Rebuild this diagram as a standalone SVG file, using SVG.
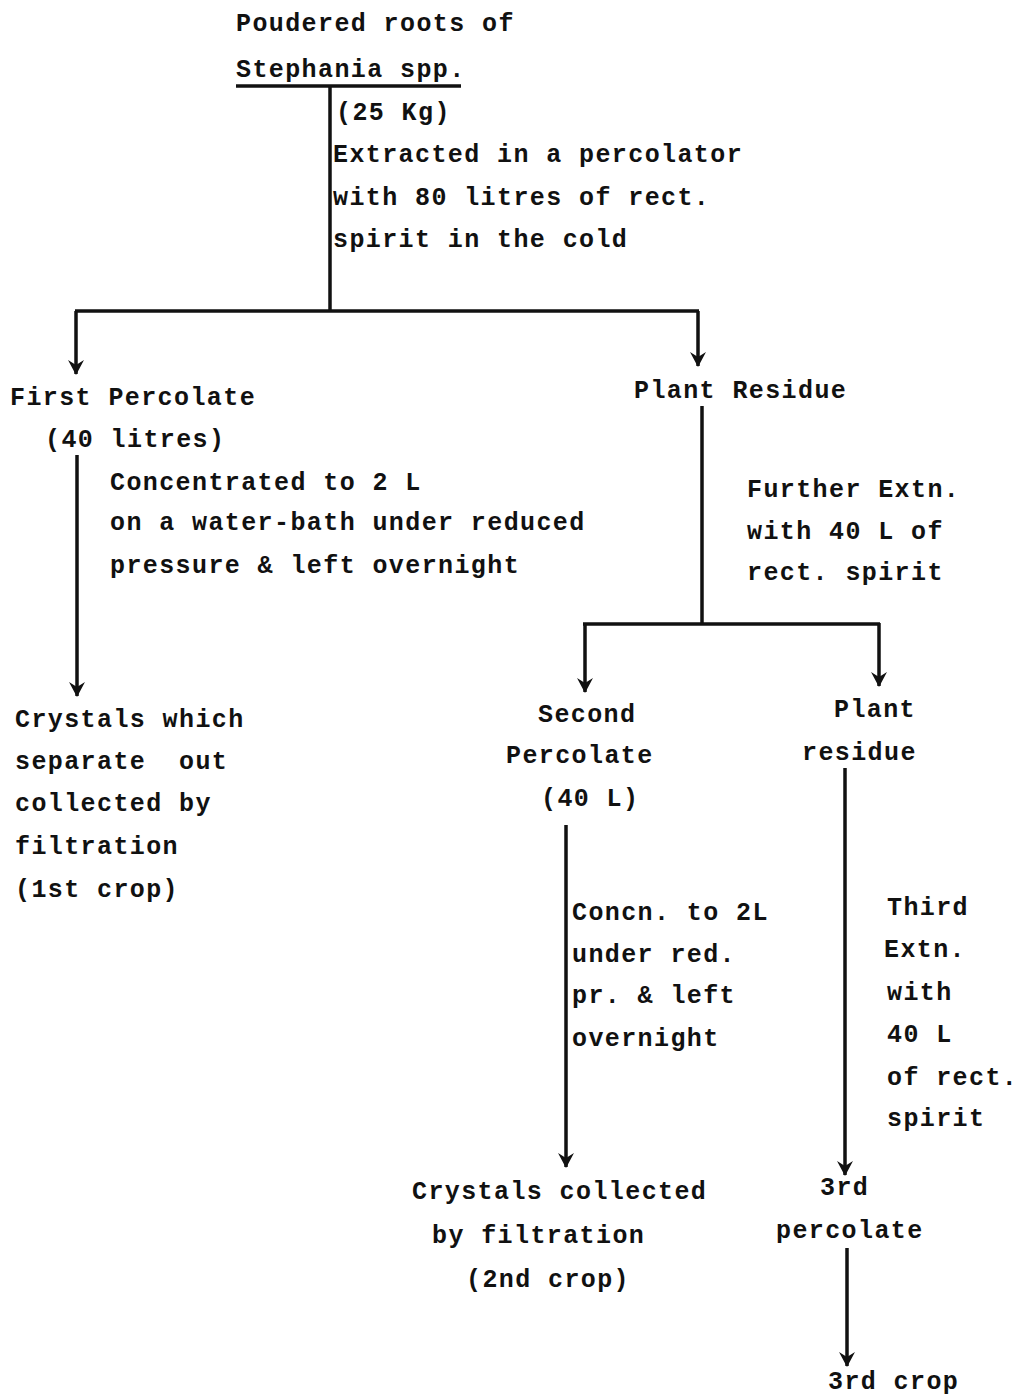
<svg xmlns="http://www.w3.org/2000/svg" width="1019" height="1397" viewBox="0 0 1019 1397">
<style>
text{font-family:"Liberation Mono","DejaVu Sans Mono",monospace;font-weight:bold;font-size:25px;letter-spacing:1.4px;fill:#111;white-space:pre}
.c{stroke:#111;stroke-width:3.5;fill:none}
.h{fill:#111;stroke:none}
</style>
<defs>
<marker id="a" markerWidth="18" markerHeight="18" refX="16" refY="9" orient="auto" markerUnits="userSpaceOnUse" viewBox="0 0 18 18">
<path d="M2,1 L7,9 L2,17 L17,9 Z" class="h"/>
</marker>
</defs>
<rect width="1019" height="1397" fill="#fff"/>
<g id="connectors">
<path class="c" d="M236,86 H461"/>
<path class="c" d="M330,86 V311"/>
<path class="c" d="M75,311 H699"/>
<path class="c" d="M76,311 V374" marker-end="url(#a)"/>
<path class="c" d="M698,311 V366" marker-end="url(#a)"/>
<path class="c" d="M77,455 V696" marker-end="url(#a)"/>
<path class="c" d="M702,406 V623"/>
<path class="c" d="M583,624 H880"/>
<path class="c" d="M585,624 V692" marker-end="url(#a)"/>
<path class="c" d="M879,623 V686" marker-end="url(#a)"/>
<path class="c" d="M566,825 V1167" marker-end="url(#a)"/>
<path class="c" d="M845,768 V1175" marker-end="url(#a)"/>
<path class="c" d="M847,1248 V1366" marker-end="url(#a)"/>
</g>
<g id="n-roots">
<text x="236" y="31">Poudered roots of</text>
<text x="236" y="77">Stephania spp.</text>
</g>
<g id="n-step1">
<text x="336" y="120">(25 Kg)</text>
<text x="333" y="162">Extracted in a percolator</text>
<text x="333" y="205">with 80 litres of rect.</text>
<text x="333" y="247">spirit in the cold</text>
</g>
<g id="n-first">
<text x="10" y="405">First Percolate</text>
<text x="45" y="447">(40 litres)</text>
</g>
<g id="n-conc1">
<text x="110" y="490">Concentrated to 2 L</text>
<text x="110" y="530">on a water-bath under reduced</text>
<text x="110" y="573">pressure &amp; left overnight</text>
</g>
<g id="n-residue1">
<text x="634" y="398">Plant Residue</text>
</g>
<g id="n-further">
<text x="747" y="497">Further Extn.</text>
<text x="747" y="539">with 40 L of</text>
<text x="747" y="580">rect. spirit</text>
</g>
<g id="n-crystals1">
<text x="15" y="727">Crystals which</text>
<text x="15" y="769">separate  out</text>
<text x="15" y="811">collected by</text>
<text x="15" y="854">filtration</text>
<text x="15" y="897">(1st crop)</text>
</g>
<g id="n-second">
<text x="538" y="722">Second</text>
<text x="506" y="763">Percolate</text>
<text x="541" y="806">(40 L)</text>
</g>
<g id="n-residue2">
<text x="834" y="717">Plant</text>
<text x="802" y="760">residue</text>
</g>
<g id="n-conc2">
<text x="572" y="920">Concn. to 2L</text>
<text x="572" y="962">under red.</text>
<text x="572" y="1003">pr. &amp; left</text>
<text x="572" y="1046">overnight</text>
</g>
<g id="n-third">
<text x="887" y="915">Third</text>
<text x="884" y="957">Extn.</text>
<text x="887" y="1000">with</text>
<text x="887" y="1042">40 L</text>
<text x="887" y="1085">of rect.</text>
<text x="887" y="1126">spirit</text>
</g>
<g id="n-crystals2">
<text x="412" y="1199">Crystals collected</text>
<text x="432" y="1243">by filtration</text>
<text x="466" y="1287">(2nd crop)</text>
</g>
<g id="n-perc3">
<text x="820" y="1195">3rd</text>
<text x="776" y="1238">percolate</text>
</g>
<g id="n-crop3">
<text x="828" y="1389">3rd crop</text>
</g>
</svg>
